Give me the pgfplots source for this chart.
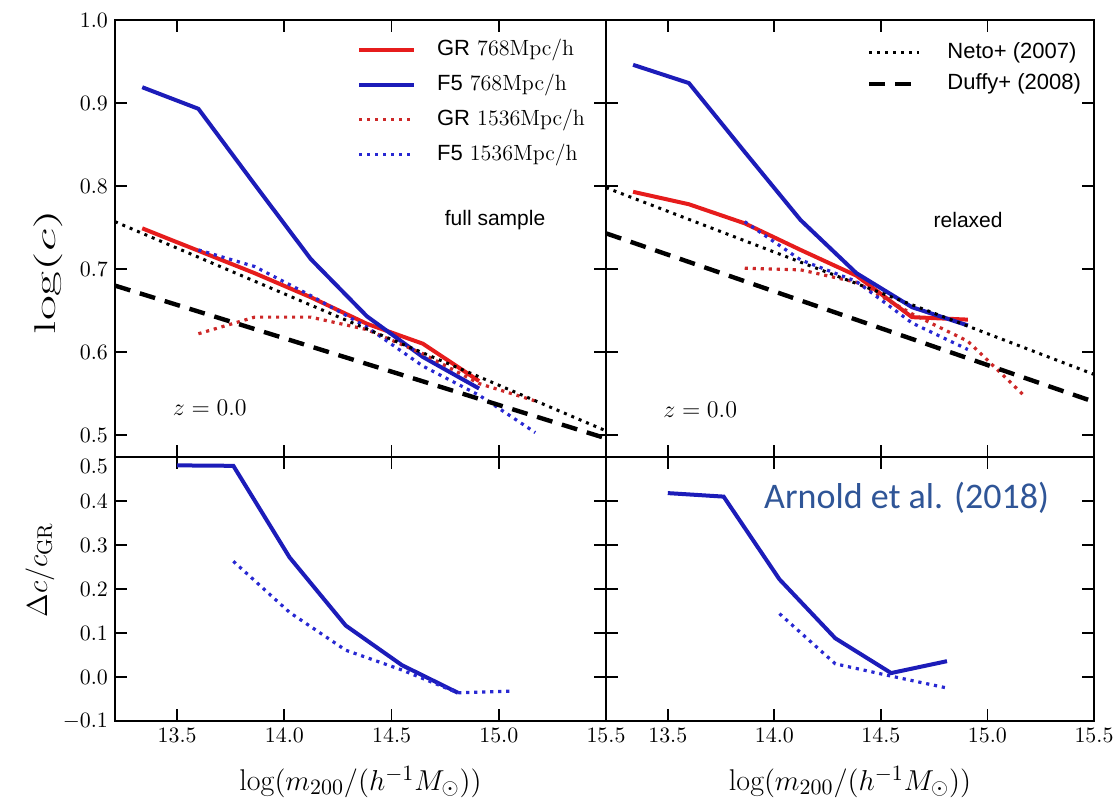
\documentclass[border=0pt]{standalone}
\usepackage{fontspec}
\usepackage{graphicx}
\usepackage{pgfplots}
\pgfplotsset{compat=1.18}
\newfontfamily\hel{Liberation Sans}
\newfontfamily\calibri{Carlito}
\definecolor{cred}{RGB}{230,28,28}
\definecolor{cblue}{RGB}{28,28,185}
\definecolor{cred2}{RGB}{205,40,40}
\definecolor{cblue2}{RGB}{40,40,210}
\definecolor{arn}{RGB}{47,85,151}
\pgfplotsset{
 panel/.style={
  scale only axis, anchor=south west,
  xmin=13.21, xmax=15.5,
  xtick={13.5,14.0,14.5,15.0,15.5},
  tick align=inside, tick pos=both,
  major tick length=6pt,
  axis line style={line width=1.1pt},
  every tick/.append style={black, line width=0.9pt},
  tick label style={font=\fontsize{11}{13}\selectfont},
  xticklabel style={/pgf/number format/fixed, /pgf/number format/fixed zerofill, /pgf/number format/precision=1},
  yticklabel style={/pgf/number format/fixed, /pgf/number format/fixed zerofill, /pgf/number format/precision=1},
 },
 toppanel/.style={panel, height=218.5pt, ymin=0.4735, ymax=1.0, ytick={0.5,0.6,0.7,0.8,0.9,1.0}, xticklabels={}},
 botpanel/.style={panel, height=132pt, ymin=-0.1, ymax=0.5, ytick={-0.1,0,0.1,0.2,0.3,0.4,0.5},
   xlabel={$\log(m_{200}/(h^{-1}M_\odot))$},
   xlabel style={font=\fontsize{15}{18}\selectfont, at={(axis description cs:0.5,-0.231)}, anchor=center}},
 sr/.style={cred, line width=2pt},
 sb/.style={cblue, line width=2pt},
 dr/.style={cred2, line width=1.6pt, dash pattern=on 1.6pt off 2.4pt},
 db/.style={cblue2, line width=1.6pt, dash pattern=on 1.6pt off 2.4pt},
 neto/.style={black, line width=1.5pt, dash pattern=on 1.5pt off 2.5pt},
 duffy/.style={black, line width=2.2pt, dash pattern=on 8pt off 5pt},
}
\begin{document}
\begin{tikzpicture}
\path[use as bounding box] (-57.5pt,-39.5pt) rectangle (499pt,360.5pt);

% ---------------- top left ----------------
\begin{axis}[toppanel, at={(0pt,132pt)}, width=245.5pt,
  ylabel={\scalebox{1.8}[1]{$\log(c)$}},
  ylabel style={font=\fontsize{15}{18}\selectfont, at={(axis description cs:-0.136,0.423)}, anchor=center},
  legend image code/.code={\draw[#1] (0pt,0pt) -- (27.5pt,0pt); \path (38pt,0pt);},
  legend cell align=left,
  legend style={draw=none, fill=none, at={(0.493,0.955)}, anchor=north west, inner sep=0pt, outer sep=0pt, row sep=6.9pt,
     nodes={inner sep=0pt, text height=8pt, text depth=2.5pt, font=\fontsize{11}{13}\selectfont}}]
\addplot[sr] coordinates {(13.337,0.749) (13.599,0.722) (13.861,0.695) (14.123,0.666) (14.385,0.634) (14.646,0.610) (14.908,0.565)};
\addlegendentry{{\hel GR} 768Mpc/h}
\addplot[sb] coordinates {(13.337,0.919) (13.599,0.893) (13.861,0.802) (14.123,0.712) (14.385,0.643) (14.646,0.594) (14.908,0.556)};
\addlegendentry{{\hel F5} 768Mpc/h}
\addplot[dr] coordinates {(13.599,0.622) (13.861,0.642) (14.123,0.642) (14.385,0.627) (14.646,0.598) (14.908,0.562) (15.170,0.541)};
\addlegendentry{{\hel GR} 1536Mpc/h}
\addplot[db] coordinates {(13.599,0.723) (13.861,0.703) (14.123,0.668) (14.385,0.630) (14.646,0.583) (14.908,0.548) (15.170,0.503)};
\addlegendentry{{\hel F5} 1536Mpc/h}
\addplot[neto, forget plot] coordinates {(13.21,0.757) (15.5,0.505)};
\addplot[duffy, forget plot] coordinates {(13.21,0.680) (15.5,0.496)};
\node[font=\hel\fontsize{10.5}{12}\selectfont] at (rel axis cs:0.774,0.542) {full sample};
\node[font=\fontsize{12}{14}\selectfont] at (rel axis cs:0.193,0.112) {$z=0.0$};
\end{axis}

% ---------------- top right ----------------
\begin{axis}[toppanel, at={(245.5pt,132pt)}, width=244pt, yticklabels={},
  legend image code/.code={\draw[#1] (0pt,0pt) -- (25pt,0pt); \path (38pt,0pt);},
  legend cell align=left,
  legend style={draw=none, fill=none, at={(0.535,0.949)}, anchor=north west, inner sep=0pt, outer sep=0pt, row sep=5pt,
     nodes={inner sep=0pt, text height=8pt, text depth=2.5pt, font=\hel\fontsize{11}{13}\selectfont}}]
\addplot[sr, forget plot] coordinates {(13.337,0.793) (13.599,0.778) (13.861,0.755) (14.123,0.723) (14.385,0.692) (14.646,0.642) (14.908,0.639)};
\addplot[sb, forget plot] coordinates {(13.337,0.946) (13.599,0.924) (13.861,0.841) (14.123,0.759) (14.385,0.695) (14.646,0.654) (14.908,0.632)};
\addplot[dr, forget plot] coordinates {(13.861,0.701) (14.123,0.699) (14.385,0.684) (14.646,0.646) (14.908,0.613) (15.170,0.548)};
\addplot[db, forget plot] coordinates {(13.861,0.757) (14.123,0.711) (14.385,0.685) (14.646,0.635) (14.908,0.603)};
\addplot[neto] coordinates {(13.21,0.798) (15.5,0.573)};
\addlegendentry{Neto+ (2007)}
\addplot[duffy] coordinates {(13.21,0.743) (15.5,0.540)};
\addlegendentry{Duffy+ (2008)}
\node[font=\hel\fontsize{10.5}{12}\selectfont] at (rel axis cs:0.742,0.542) {relaxed};
\node[font=\fontsize{12}{14}\selectfont] at (rel axis cs:0.193,0.108) {$z=0.0$};
\end{axis}

% ---------------- bottom left ----------------
\begin{axis}[botpanel, at={(0pt,0pt)}, width=245.5pt,
  yticklabels={$-0.1$,$0.0$,$0.1$,$0.2$,$0.3$,$0.4$,\raisebox{-8pt}[0pt][0pt]{$0.5$}},
  ylabel={$\Delta c/c_{\rm GR}$},
  ylabel style={font=\fontsize{15}{18}\selectfont, at={(axis description cs:-0.153,0.572)}, anchor=center}]
\addplot[sb] coordinates {(13.5,0.481) (13.762,0.480) (14.024,0.272) (14.286,0.117) (14.548,0.027) (14.81,-0.036)};
\addplot[db] coordinates {(13.762,0.263) (14.024,0.147) (14.286,0.061) (14.548,0.016) (14.81,-0.036) (15.065,-0.032)};
\end{axis}

% ---------------- bottom right ----------------
\begin{axis}[botpanel, at={(245.5pt,0pt)}, width=244pt, yticklabels={}]
\addplot[sb] coordinates {(13.5,0.418) (13.762,0.410) (14.024,0.222) (14.286,0.088) (14.548,0.009) (14.81,0.036)};
\addplot[db] coordinates {(14.024,0.144) (14.286,0.030) (14.548,0.002) (14.81,-0.025)};
\node[font=\calibri\fontsize{18}{21}\selectfont, text=arn] at (rel axis cs:0.616,0.845) {Arnold et al. (2018)};
\end{axis}
\end{tikzpicture}
\end{document}
